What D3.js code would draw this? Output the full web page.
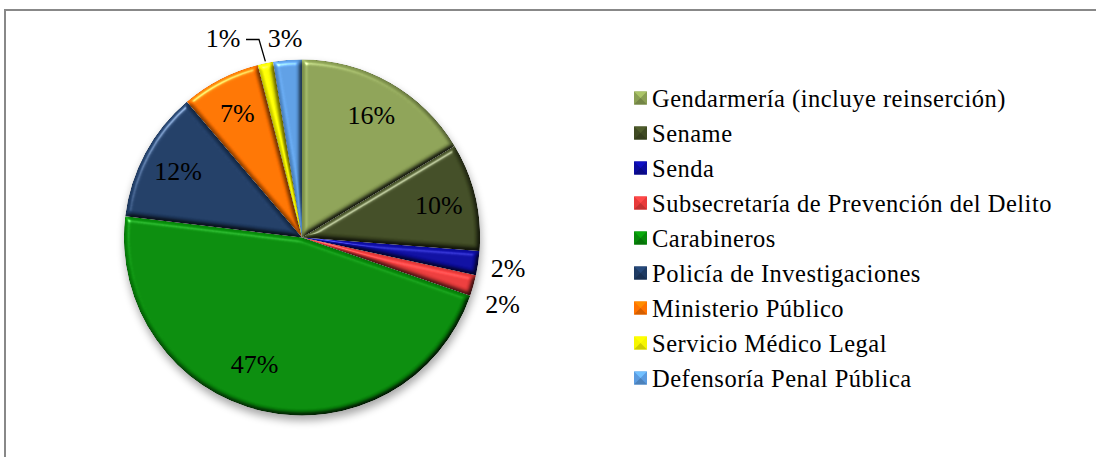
<!DOCTYPE html>
<html><head><meta charset="utf-8">
<script src="https://cdn.jsdelivr.net/npm/d3@7"></script>
<style>html,body{margin:0;padding:0;background:#fff;}svg{display:block;}</style>
</head><body>
<svg id="chart" width="1096" height="457"></svg>
<script>
const categories = ["Gendarmería (incluye reinserción)","Sename","Senda","Subsecretaría de Prevención del Delito","Carabineros","Policía de Investigaciones","Ministerio Público","Servicio Médico Legal","Defensoría Penal Pública"];
const values = [16.4, 9.8, 2.2, 1.9, 46.6, 11.9, 7.2, 1.4, 2.6];
const labels = ["16%","10%","2%","2%","47%","12%","7%","1%","3%"];
const colors = ["#8a9f54","#3f4a23","#0c0c9e","#e83a3a","#07890a","#1f3b63","#ff7200","#f6f600","#5b9be0"];

const svg = d3.select("#chart");
const W = 1096, H = 457;
const cx = 302, cy = 237.5, R = 178;
const FONT = "'Liberation Serif', 'Times New Roman', serif";

// frame
svg.append("path").attr("d", `M5,${H+2} L5,10 L${W+2},10`).attr("fill","none").attr("stroke","#888").attr("stroke-width",2);

const defs = svg.append("defs");
const bevel = defs.append("filter").attr("id","bevel").attr("x","-10%").attr("y","-10%").attr("width","120%").attr("height","120%")
  .attr("color-interpolation-filters","sRGB");
bevel.append("feGaussianBlur").attr("in","SourceAlpha").attr("stdDeviation",2.5).attr("result","blur");
const spec = bevel.append("feSpecularLighting").attr("in","blur").attr("surfaceScale",4).attr("specularConstant",0.9).attr("specularExponent",30).attr("lighting-color","#ffffff").attr("result","spec");
spec.append("feDistantLight").attr("azimuth",235).attr("elevation",40);
bevel.append("feComposite").attr("in","spec").attr("in2","SourceAlpha").attr("operator","in").attr("result","specIn");
const diff = bevel.append("feDiffuseLighting").attr("in","blur").attr("surfaceScale",4).attr("diffuseConstant",1).attr("lighting-color","#ffffff").attr("result","diff");
diff.append("feDistantLight").attr("azimuth",235).attr("elevation",60);
bevel.append("feComposite").attr("in","diff").attr("in2","SourceAlpha").attr("operator","in").attr("result","diffIn");
bevel.append("feComposite").attr("in","SourceGraphic").attr("in2","diffIn").attr("operator","arithmetic").attr("k1",1.155).attr("k2",0).attr("k3",0).attr("k4",0).attr("result","lit");
bevel.append("feComposite").attr("in","lit").attr("in2","specIn").attr("operator","arithmetic").attr("k1",0).attr("k2",1).attr("k3",0.5).attr("k4",0);

const shadow = defs.append("filter").attr("id","shadow").attr("x","-20%").attr("y","-20%").attr("width","140%").attr("height","140%");
shadow.append("feGaussianBlur").attr("in","SourceAlpha").attr("stdDeviation",4);

const pie = d3.pie().sort(null).value(d => d).startAngle(0).endAngle(2*Math.PI);
const arcs = pie(values);
const arc = d3.arc().innerRadius(0).outerRadius(R);

const g = svg.append("g").attr("transform", `translate(${cx},${cy})`);
g.append("circle").attr("cx",1).attr("cy",5).attr("r",R).attr("fill","#000").attr("opacity",0.35).attr("filter","url(#shadow)");

g.selectAll("path.slice").data(arcs).join("path")
  .attr("class","slice")
  .attr("d", arc)
  .attr("fill", (d,i) => colors[i])
  .attr("filter","url(#bevel)");

// labels
const inArc = d3.arc().innerRadius(R*0.79).outerRadius(R*0.79);
const outArc = d3.arc().innerRadius(R*1.17).outerRadius(R*1.17);
const lab = g.append("g").attr("font-family", FONT).attr("font-size", 26).attr("fill","#000");
arcs.forEach((d,i) => {
  const frac = (d.endAngle - d.startAngle)/(2*Math.PI);
  if (frac > 0.05) {
    let [x,y] = inArc.centroid(d);
    if (frac > 0.4) { x -= 16; y -= 11; }
    lab.append("text").attr("x",x).attr("y",y).attr("text-anchor","middle").attr("dy","0.35em").text(labels[i]);
  }
});
// outside labels (small slices)
const small = arcs.map((d,i)=>({d,i})).filter(o => (o.d.endAngle-o.d.startAngle)/(2*Math.PI) <= 0.05);
small.forEach(({d,i}) => {
  let [x,y] = outArc.centroid(d);
  const mid = (d.startAngle+d.endAngle)/2;
  const t = lab.append("text").attr("dy","0.35em").text(labels[i]);
  if (mid > Math.PI) {
    y = -R - 22;
    const next = small.find(o => o.i === i+1);
    if (next) {
      const [ex,ey] = d3.arc().innerRadius(R).outerRadius(R).centroid(d);
      const nx = outArc.centroid(next.d)[0];
      const lx = nx - 62;
      t.attr("x", lx).attr("y", y).attr("text-anchor","middle");
      g.append("path").attr("d", `M${lx+23},${y+2} L${lx+36},${y+2} L${ex},${ey-2}`)
        .attr("fill","none").attr("stroke","#000").attr("stroke-width",1.3);
    } else {
      t.attr("x", x).attr("y", y).attr("text-anchor","middle");
    }
  } else {
    t.attr("x", x).attr("y", y + (i===3 ? 10 : 0)).attr("text-anchor","middle");
  }
});

// legend
const leg = svg.append("g").attr("transform","translate(634,98)");
const rowH = 35;
categories.forEach((c,i) => {
  const r = leg.append("g").attr("transform",`translate(0,${i*rowH})`);
  const col = d3.color(colors[i]);
  r.append("rect").attr("x",0).attr("y",-6.5).attr("width",13).attr("height",13).attr("fill",colors[i]);
  r.append("path").attr("d","M0,-6.5 L13,-6.5 L6.5,0 Z").attr("fill", col.brighter(0.6));
  r.append("path").attr("d","M0,6.5 L13,6.5 L6.5,0 Z").attr("fill", col.darker(0.5));
  r.append("text").attr("x",18).attr("y",0).attr("dy","0.35em").attr("font-family",FONT).attr("font-size",24.5).attr("letter-spacing",0.5).attr("fill","#000").text(c);
});
</script>
</body></html>
